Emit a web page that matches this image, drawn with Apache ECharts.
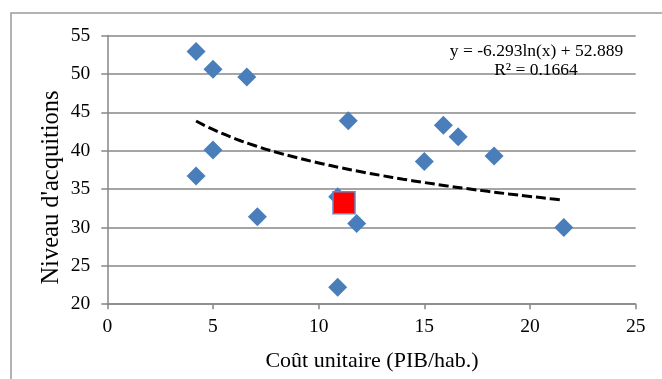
<!DOCTYPE html>
<html>
<head>
<meta charset="utf-8">
<script src="https://cdn.jsdelivr.net/npm/echarts@6/dist/echarts.min.js"></script>
<style>
html,body{margin:0;padding:0;background:#fff;}
#c{width:662px;height:379px;}
</style>
</head>
<body>
<div id="c"></div>
<script>
// Data
var pointX = [4.2, 5.0, 6.6, 11.4, 5.0, 4.2, 7.1, 10.9, 11.8, 10.9, 15.0, 15.9, 16.6, 18.3, 21.6];
var pointY = [52.9, 50.6, 49.6, 43.9, 40.1, 36.7, 31.4, 34.0, 30.5, 22.2, 38.6, 43.3, 41.8, 39.3, 30.0];
var highlightX = [11.2];
var highlightY = [33.2];
var trendX = [4.2, 5, 6, 7, 8, 9, 10, 11, 12, 13, 14, 15, 16, 17, 18, 19, 20, 21, 21.6];
var trendY = [43.86, 42.76, 41.61, 40.64, 39.80, 39.06, 38.40, 37.80, 37.25, 36.75, 36.28, 35.85, 35.44, 35.06, 34.70, 34.36, 34.04, 33.73, 33.55];
var xTicks = [0, 5, 10, 15, 20, 25];
var yTicks = [20, 25, 30, 35, 40, 45, 50, 55];
var equationText = 'y = -6.293ln(x) + 52.889';
var r2Text = 'R² = 0.1664';
var xTitle = 'Coût unitaire (PIB/hab.)';
var yTitle = "Niveau d'acquitions";

function zip(a, b) { return a.map(function (v, i) { return [v, b[i]]; }); }

var FONT = "'Liberation Serif', 'Times New Roman', serif";
var GRAY = '#878787';

var chart = echarts.init(document.getElementById('c'));
chart.setOption({
  animation: false,
  backgroundColor: '#fff',
  grid: { left: 107.3, right: 26.3, top: 35.5, bottom: 74.8, containLabel: false },
  xAxis: {
    type: 'value',
    min: xTicks[0], max: xTicks[xTicks.length - 1], interval: 5,
    axisLine: { show: true, lineStyle: { color: GRAY, width: 1.5 } },
    axisTick: { show: true, length: 5, lineStyle: { color: GRAY, width: 1.5 } },
    axisLabel: { color: '#000', fontFamily: FONT, fontSize: 19.5, margin: 13 },
    splitLine: { show: false }
  },
  yAxis: {
    type: 'value',
    min: yTicks[0], max: yTicks[yTicks.length - 1], interval: 5,
    axisLine: { show: true, lineStyle: { color: GRAY, width: 1.5 } },
    axisTick: { show: true, length: 6, lineStyle: { color: GRAY, width: 1.5 } },
    axisLabel: { color: '#000', fontFamily: FONT, fontSize: 19.5, margin: 17 },
    splitLine: { show: true, lineStyle: { color: GRAY, width: 1.5 } }
  },
  series: [
    {
      type: 'scatter',
      data: zip(pointX, pointY),
      symbol: 'diamond',
      symbolSize: 19,
      itemStyle: { color: '#4a7ebb', opacity: 1 },
      z: 2
    },
    {
      type: 'scatter',
      data: zip(highlightX, highlightY),
      symbol: 'rect',
      symbolSize: 22,
      itemStyle: { color: '#ff0000', borderColor: '#5b8dcc', borderWidth: 1.5, opacity: 1 },
      z: 3
    },
    {
      type: 'line',
      data: zip(trendX, trendY),
      smooth: true,
      showSymbol: false,
      symbol: 'none',
      lineStyle: { color: '#000', width: 3, type: [10, 4] },
      z: 4
    }
  ],
  graphic: [
    { type: 'rect', shape: { x: 11, y: 13, width: 700, height: 420 }, style: { fill: null, stroke: '#9a9a9a', lineWidth: 1.5 }, z: -10 },
    { type: 'text', x: 536.5, y: 51, style: { text: equationText, font: '17.5px ' + FONT, fill: '#000', textAlign: 'center', textVerticalAlign: 'middle' }, z: 10 },
    { type: 'text', x: 536, y: 70, style: { text: r2Text, font: '17.5px ' + FONT, fill: '#000', textAlign: 'center', textVerticalAlign: 'middle' }, z: 10 },
    { type: 'text', x: 372, y: 361, style: { text: xTitle, font: '22px ' + FONT, fill: '#000', textAlign: 'center', textVerticalAlign: 'middle' }, z: 10 },
    { type: 'text', x: 52, y: 187.5, rotation: Math.PI / 2, style: { text: yTitle, font: '24.5px ' + FONT, fill: '#000', textAlign: 'center', textVerticalAlign: 'middle' }, z: 10 }
  ]
});
</script>
</body>
</html>
